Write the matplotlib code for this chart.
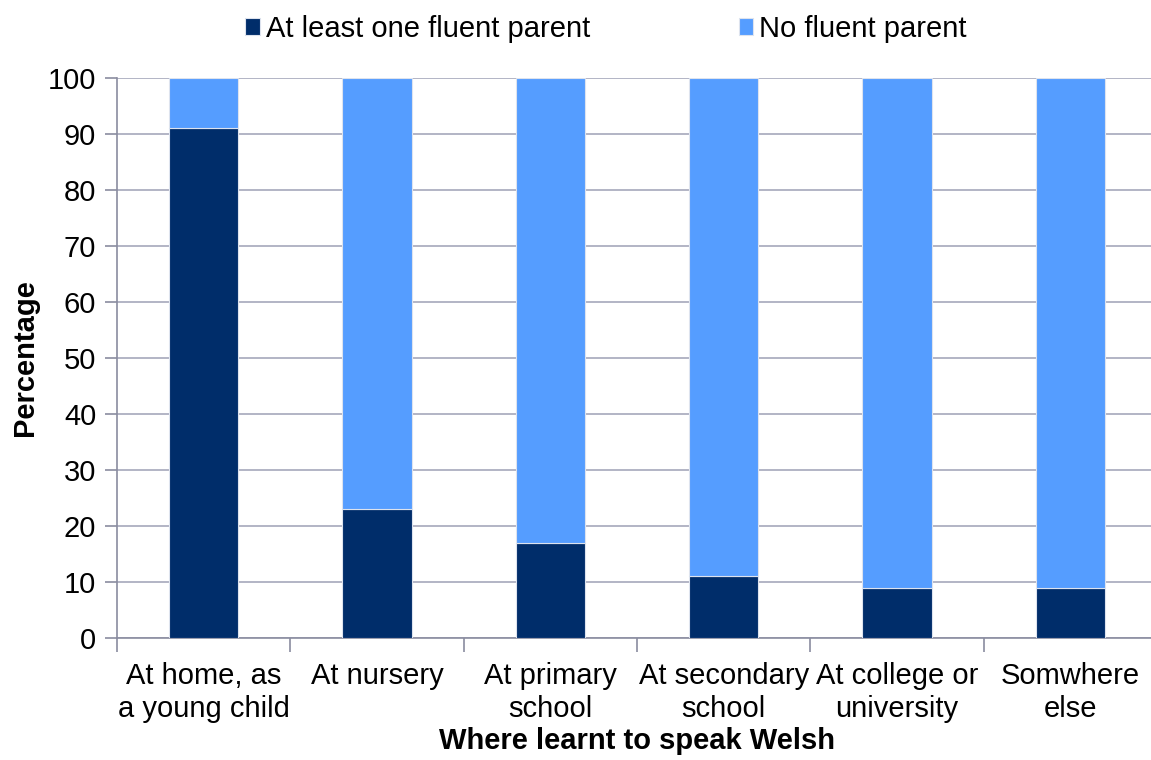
import matplotlib
matplotlib.use("Agg")
import matplotlib.pyplot as plt
import numpy as np

categories = ["At home, as\na young child", "At nursery", "At primary\nschool",
              "At secondary\nschool", "At college or\nuniversity", "Somwhere\nelse"]
fluent_parent = [91, 23, 17, 11, 9, 9]
no_fluent_parent = [9, 77, 83, 89, 91, 91]
series_names = ["At least one fluent parent", "No fluent parent"]
yticks = [0, 10, 20, 30, 40, 50, 60, 70, 80, 90, 100]

plt.rcParams['font.family'] = ['Liberation Sans', 'DejaVu Sans']

fig = plt.figure(figsize=(11.51, 7.6), dpi=100)
ax = fig.add_axes([117/1151, 1-638/760, (1157-117)/1151, (638-78)/760])

dark = "#002D6A"
light = "#559DFF"
grid_c = "#A6A8BB"
fs = 21
x = np.arange(len(categories))
w = 0.4
b1 = ax.bar(x, fluent_parent, width=w, color=dark, edgecolor="#DDE3EE", linewidth=0.8,
            label=series_names[0], zorder=3)
b2 = ax.bar(x, no_fluent_parent, width=w, bottom=fluent_parent, color=light,
            edgecolor="#DDE3EE", linewidth=0.8, label=series_names[1], zorder=3)

ax.set_xlim(-0.5, len(categories) - 0.5)
ax.set_ylim(0, 100)
ax.set_yticks(yticks)
ax.set_yticklabels([str(v) for v in yticks], fontsize=fs)
ax.yaxis.grid(True, color=grid_c, linewidth=1.2, zorder=0)
ax.set_axisbelow(True)

ax.set_xticks(x)
ax.set_xticklabels(categories, fontsize=fs, linespacing=1.25)
ax.set_xticks(np.arange(-0.5, len(categories)), minor=True)
ax.tick_params(axis='x', which='major', length=0, pad=17)
ax.tick_params(axis='x', which='minor', length=10, color="#8A8CA0", width=1.2)
ax.tick_params(axis='y', length=9, color="#8A8CA0", width=1.2, pad=6)

for s in ["top", "right"]:
    ax.spines[s].set_visible(False)
for s in ["left", "bottom"]:
    ax.spines[s].set_color("#8A8CA0")
    ax.spines[s].set_linewidth(1.2)

ax.set_ylabel("Percentage", fontsize=fs, fontweight="bold", labelpad=6)
ax.set_xlabel("Where learnt to speak Welsh", fontsize=fs, fontweight="bold", labelpad=3)

leg = fig.legend(handles=[b1, b2], labels=series_names, loc="center",
                 bbox_to_anchor=(606/1151, 1-29/760), ncol=2, frameon=False,
                 fontsize=fs, handlelength=0.5, handleheight=0.5, handletextpad=0.2,
                 columnspacing=5.1)

fig.savefig("out.png", dpi=100)
